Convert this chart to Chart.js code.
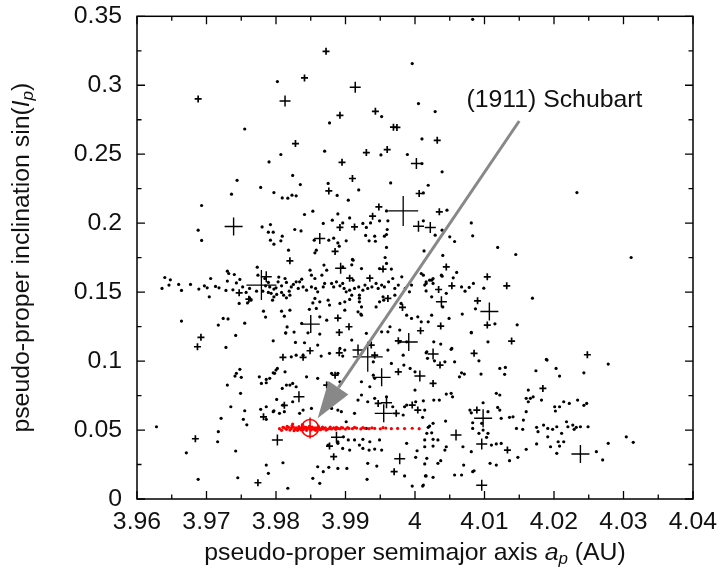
<!DOCTYPE html>
<html><head><meta charset="utf-8">
<script src="https://cdn.jsdelivr.net/npm/chart.js@4.4.0/dist/chart.umd.min.js"></script>
<style>html,body{margin:0;padding:0;background:#fff}canvas{display:block}</style>
</head><body>
<canvas id="c" width="722" height="577"></canvas>
<script>
const FONT = '"Liberation Sans", Arial, Helvetica, sans-serif';
const FS = 24.8;
const xTicks = [3.96,3.97,3.98,3.99,4.00,4.01,4.02,4.03,4.04];
const xTickLabels = ['3.96','3.97','3.98','3.99','4','4.01','4.02','4.03','4.04'];
const xMinorTicks = [3.965,3.975,3.985,3.995,4.005,4.015,4.025,4.035];
const yTicks = [0,0.05,0.10,0.15,0.20,0.25,0.30,0.35];
const yTickLabels = ['0','0.05','0.1','0.15','0.2','0.25','0.3','0.35'];
const yMinorTicks = [0.025,0.075,0.125,0.175,0.225,0.275,0.325];

// background asteroids (small dots)
const dots = [
[3.9996,0.3157],[3.9802,0.3027],[4.0005,0.2867],[3.9952,0.2773],[3.9877,0.2727],[3.9755,0.2683],[4.0010,0.2611],[3.9870,0.2522],[3.9807,0.2498],[3.9951,0.2495],[3.9989,0.2498],[3.9790,0.2444],[3.9824,0.2346],[3.9744,0.2311],[4.0083,0.3478],
[4.0029,0.2809],[4.0010,0.2432],[4.0039,0.2372],[4.0233,0.2222],[4.0311,0.1751],[4.0169,0.1456],
[3.9736,0.2210],[3.9693,0.2128],[3.9688,0.1949],[3.9693,0.1875],
[3.9778,0.2259],[3.9835,0.2280],[3.9875,0.2288],[3.9919,0.2241],[3.9965,0.2292],[4.0019,0.2275],[3.9797,0.2222],
[3.9809,0.2183],[3.9817,0.2181],[3.9823,0.2203],[3.9829,0.2198],[3.9888,0.2201],[3.9904,0.2167],[3.9841,0.2063],[3.9853,0.2087],[3.9959,0.2089],
[3.9889,0.2067],[3.9906,0.2038],[3.9896,0.2002],[3.9881,0.2022],[3.9868,0.1998],[3.9925,0.1998],[3.9936,0.2002],[3.9930,0.1969],[3.9949,0.2017],[3.9961,0.2017],
[3.9780,0.1973],[3.9792,0.1990],[3.9789,0.1935],[3.9796,0.1935],[3.9827,0.1954],[3.9836,0.1944],
[3.9809,0.1906],[3.9807,0.1872],[3.9792,0.1877],[3.9797,0.1848],
[3.9855,0.1877],[3.9858,0.1804],[3.9856,0.1785],[3.9876,0.1877],[3.9883,0.1891],[3.9889,0.1857],[3.9891,0.1833],
[3.9901,0.1872],[3.9929,0.1911],[3.9934,0.1872],[3.9942,0.1906],[3.9943,0.1869],[3.9956,0.1906],[3.9960,0.1954],[3.9959,0.1918],[3.9959,0.1824],
[3.9818,0.1804],[3.9910,0.1737],[3.9909,0.1698],[3.9896,0.1683],[3.9957,0.1751],[3.9959,0.1708],
[4.0012,0.2219],[4.0046,0.2094],[4.0012,0.2017],[4.0039,0.1949],[4.0029,0.1913],[4.0050,0.1901],[4.0057,0.1867],[4.0081,0.2002],[4.0083,0.1908],[4.0119,0.1824],[4.0145,0.1773],[4.0013,0.1799],[4.0040,0.1766],[4.0060,0.1643],[4.0055,0.1604],[4.0039,0.1616],[4.0084,0.1563],[4.0078,0.1534],[4.0067,0.1538],[4.0072,0.1507],[4.0099,0.1529],[4.0045,0.1491],[4.0024,0.1587],[4.0026,0.1599],[4.0012,0.1623],[4.0016,0.1575],[4.0014,0.1551],[4.0016,0.1509],[4.0024,0.1466],[4.0040,0.1393],[4.0068,0.1341],[4.0087,0.1379],[4.0115,0.1270],[4.0147,0.1263],[4.0049,0.1309],[4.0009,0.1285],[4.0081,0.1208],[4.0027,0.1140],[4.0037,0.1123],[4.0053,0.1092],[4.0105,0.1140],
[3.9640,0.1606],[3.9648,0.1589],[3.9636,0.1527],[3.9646,0.1551],[3.9660,0.1556],[3.9664,0.1512],[3.9677,0.1556],[3.9689,0.1522],[3.9697,0.1546],[3.9701,0.1531],[3.9706,0.1599],[3.9704,0.1466],[3.9713,0.1541],[3.9718,0.1531],[3.9728,0.1512],[3.9730,0.1580],[3.9730,0.1652],[3.9732,0.1635],[3.9740,0.1628],[3.9743,0.1567],[3.9738,0.1517],[3.9748,0.1592],[3.9752,0.1538],[3.9747,0.1418],[3.9757,0.1498],[3.9762,0.1459],[3.9764,0.1442],[3.9759,0.1422],[3.9762,0.1527],[3.9772,0.1507],[3.9773,0.1681],[3.9774,0.1623],[3.9784,0.1599],[3.9789,0.1570],[3.9785,0.1546],[3.9791,0.1538],[3.9781,0.1507],[3.9789,0.1498],[3.9793,0.1491],[3.9797,0.1522],[3.9800,0.1531],[3.9801,0.1483],[3.9797,0.1466],[3.9795,0.1442],[3.9782,0.1362],[3.9785,0.1319],[3.9808,0.1546],[3.9813,0.1599],[3.9815,0.1570],[3.9804,0.1609],[3.9803,0.1575],[3.9808,0.1498],[3.9811,0.1478],[3.9815,0.1459],[3.9819,0.1507],[3.9822,0.1538],[3.9825,0.1556],[3.9829,0.1575],[3.9832,0.1527],[3.9820,0.1478],[3.9808,0.1362],[3.9812,0.1326],[3.9664,0.1290],[3.9724,0.1309],[3.9731,0.1306],[3.9717,0.1261],[3.9755,0.1275],[3.9742,0.1186],[3.9796,0.1147],[3.9816,0.1248],[3.9814,0.1203],[3.9826,0.1210],[3.9828,0.1135],
[3.9849,0.1659],[3.9851,0.1623],[3.9869,0.1696],[3.9873,0.1659],[3.9866,0.1623],[3.9856,0.1599],[3.9837,0.1594],[3.9834,0.1575],[3.9839,0.1538],[3.9844,0.1514],[3.9851,0.1538],[3.9857,0.1527],[3.9860,0.1502],[3.9868,0.1538],[3.9870,0.1563],[3.9880,0.1563],[3.9883,0.1538],[3.9887,0.1575],[3.9892,0.1546],[3.9896,0.1563],[3.9898,0.1527],[3.9901,0.1502],[3.9906,0.1514],[3.9911,0.1587],[3.9913,0.1527],[3.9919,0.1538],[3.9920,0.1478],[3.9925,0.1514],[3.9928,0.1551],[3.9932,0.1527],[3.9938,0.1538],[3.9944,0.1563],[3.9947,0.1527],[3.9952,0.1551],[3.9956,0.1538],[3.9962,0.1575],[3.9968,0.1599],[3.9971,0.1527],[3.9976,0.1551],[3.9981,0.1611],[3.9986,0.1527],[3.9992,0.1502],[3.9995,0.1551],[3.9911,0.1732],[3.9923,0.1671],[3.9966,0.1667],[3.9949,0.1671],[4.0009,0.1635],[4.0021,0.1587],[4.0026,0.1563],[4.0016,0.1563],[4.0038,0.1623],
[3.9856,0.1454],[3.9863,0.1430],[3.9875,0.1442],[3.9899,0.1430],[3.9909,0.1478],[3.9920,0.1430],[3.9923,0.1393],[3.9944,0.1393],[3.9949,0.1430],[3.9954,0.1466],[3.9971,0.1478],[3.9980,0.1418],[3.9899,0.1369],[3.9858,0.1382],[3.9877,0.1406],[3.9918,0.1357],[3.9923,0.1333],[3.9988,0.1333],[3.9995,0.1309],[4.0004,0.1321],[4.0019,0.1285],[4.0024,0.1333],[3.9837,0.1273],[3.9863,0.1321],[3.9873,0.1297],
[3.9820,0.1369],[3.9848,0.1375],[3.9853,0.1422],[3.9892,0.1418],[3.9906,0.1447],[3.9920,0.1456],[3.9922,0.1341],[3.9955,0.1442],[3.9964,0.1249],[3.9978,0.1225],
[3.9814,0.1205],[3.9846,0.1205],[3.9863,0.1196],[3.9841,0.1133],[3.9860,0.1116],[3.9877,0.1056],[3.9892,0.1092],[3.9899,0.1080],[3.9909,0.1152],[3.9839,0.1043],[3.9865,0.1036],[3.9822,0.1031],[3.9796,0.0915],[3.9800,0.0935],[3.9813,0.0922],[3.9815,0.0826],[3.9786,0.0867],[3.9779,0.0838],[3.9820,0.0826],[3.9824,0.0838],[3.9829,0.0814],[3.9844,0.0886],[3.9860,0.0875],[3.9880,0.0911],[3.9889,0.0911],[3.9892,0.0850],[3.9923,0.0850],[3.9935,0.0814],[3.9940,0.0898],[3.9942,0.0875],[3.9940,0.0995],[3.9966,0.0983],[3.9978,0.1140],[3.9983,0.1043],[3.9988,0.1140],[3.9961,0.1080],[3.9930,0.1201],[3.9952,0.1212],[3.9961,0.1212],[3.9786,0.0669],[3.9796,0.0633],[3.9810,0.0681],[3.9812,0.0633],[3.9805,0.0621],[3.9824,0.0705],[3.9839,0.0645],[3.9851,0.0657],[3.9834,0.0621],[3.9880,0.0657],[3.9889,0.0645],[3.9894,0.0633],[3.9918,0.0717],[3.9923,0.0754],[3.9932,0.0705],[3.9942,0.0730],[3.9959,0.0741],[3.9968,0.0669],[3.9988,0.0681],[3.9913,0.0621],[3.9983,0.0609],
[4.0081,0.1205],[4.0052,0.1085],[4.0016,0.1060],[4.0018,0.1020],[4.0028,0.1002],[4.0043,0.0995],[4.0057,0.0995],[4.0092,0.1002],[3.9984,0.0971],[3.9993,0.0947],[4.0000,0.0922],[4.0067,0.0915],[4.0071,0.0906],[4.0064,0.0886],[4.0095,0.0906],[4.0122,0.0947],[4.0130,0.0954],[4.0129,0.0904],[4.0174,0.0930],[4.0189,0.1012],[4.0000,0.0790],[4.0045,0.0761],[4.0052,0.0766],[4.0054,0.0741],[4.0027,0.0717],[4.0035,0.0717],[4.0117,0.0766],[4.0122,0.0754],[4.0098,0.0698],[4.0119,0.0664],[4.0122,0.0645],[4.0079,0.0645],[4.0081,0.0625],[4.0105,0.0633],[4.0163,0.0790],[4.0160,0.0730],[4.0166,0.0730],[4.0163,0.0705],[4.0170,0.0741],[4.0182,0.0717],[4.0160,0.0633],[4.0141,0.0596],[4.0012,0.0712],[4.0014,0.0645],[4.0011,0.0592],[3.9985,0.0669],[4.0001,0.0705],
[4.0278,0.0978],[4.0243,0.0915],[4.0190,0.1007],[4.0203,0.0947],[4.0208,0.0891],[4.0201,0.0669],[4.0202,0.0638],[4.0208,0.0669],[4.0214,0.0705],[4.0222,0.0693],[4.0234,0.0717],[4.0243,0.0679],[4.0247,0.0693],[4.0156,0.0572],[4.0175,0.0520],[4.0177,0.0488],[4.0185,0.0536],[4.0191,0.0512],[4.0198,0.0505],[4.0191,0.0451],[4.0204,0.0524],[4.0211,0.0476],[4.0218,0.0560],[4.0220,0.0524],[4.0227,0.0536],[4.0229,0.0505],[4.0232,0.0520],[4.0238,0.0524],[4.0249,0.0524],[4.0206,0.0415],[4.0208,0.0384],[4.0195,0.0379],[4.0160,0.0360],[4.0175,0.0399],[4.0204,0.0331],[4.0214,0.0415],[4.0261,0.0343],[4.0270,0.0283],[4.0278,0.0404],[4.0304,0.0451],[4.0314,0.0411],
[4.0017,0.1067],[4.0019,0.0520],[4.0021,0.0529],[4.0026,0.0549],[4.0044,0.0565],[4.0024,0.0480],[4.0017,0.0476],[4.0026,0.0433],[4.0033,0.0428],[4.0014,0.0379],[4.0026,0.0384],[4.0043,0.0355],[4.0069,0.0379],[4.0081,0.0343],[4.0017,0.0295],[4.0037,0.0278],[4.0033,0.0259],[4.0014,0.0254],[4.0070,0.0246],[4.0108,0.0259],[4.0117,0.0246],[4.0083,0.0198],[4.0085,0.0205],[4.0067,0.0174],[4.0057,0.0174],[4.0016,0.0167],[4.0026,0.0157],[4.0012,0.0101],[4.0124,0.0585],[4.0083,0.0553],[4.0096,0.0549],[4.0083,0.0512],[4.0098,0.0500],[4.0105,0.0476],[4.0092,0.0476],[4.0103,0.0447],[4.0110,0.0391],[4.0117,0.0399],[4.0124,0.0403],[4.0136,0.0592],[4.0146,0.0512],[4.0155,0.0505],[4.0136,0.0278],[4.0148,0.0302],
[3.9728,0.1099],[3.9896,0.1036],[3.9829,0.1043],[3.9748,0.0940],[3.9743,0.0911],[3.9741,0.0891],[3.9730,0.0826],[3.9750,0.0882],[3.9749,0.0766],[3.9735,0.0669],[3.9755,0.0640],[3.9753,0.0578],[3.9758,0.0538],[3.9721,0.0585],[3.9717,0.0488],[3.9716,0.0415],[3.9628,0.0524],[3.9671,0.0335],[3.9742,0.0348],[3.9688,0.0143],[3.9745,0.0154],[3.9776,0.0886],[3.9786,0.0843],[3.9791,0.0875],[3.9798,0.0911],[3.9802,0.0947],[3.9778,0.0650],[3.9797,0.0640],[3.9786,0.0578],[3.9801,0.0722],[3.9809,0.0802],[3.9786,0.0246],[3.9789,0.0186],[3.9810,0.0263],[3.9817,0.0078],[3.9853,0.0150],[3.9863,0.0114],[3.9860,0.0234],[3.9868,0.0198],[3.9876,0.0230],[3.9889,0.0222],[3.9902,0.0222],[3.9931,0.0143],[3.9945,0.0239],[3.9932,0.0259],[3.9985,0.0167],[3.9996,0.0094],[4.0015,0.0167],[4.0011,0.0094],[4.0001,0.0302],[4.0003,0.0350],[4.0014,0.0428],[3.9925,0.0367],[3.9934,0.0355],[3.9942,0.0362],[3.9925,0.0433],[3.9930,0.0512],[3.9949,0.0428],[3.9901,0.0560],[3.9897,0.0451],[3.9889,0.0415],[3.9904,0.0428],
[3.9875,0.0391],[3.9889,0.0404],[3.9896,0.0367],[3.9906,0.0355],[3.9913,0.0428],[3.9920,0.0391],[3.9935,0.0415],[3.9952,0.0355],[3.9988,0.0404],[4.0045,0.0379]
];

// larger asteroids drawn as crosses, grouped by size
const crossesSmall = [
[3.9872,0.3246],[3.9841,0.3053],[3.9688,0.2901],[3.9892,0.2782],[3.9943,0.2811],[3.9969,0.2696],[3.9974,0.2694],[3.9828,0.2577],[3.9930,0.2512],[3.9960,0.2534],[3.9895,0.2441],[3.9910,0.2324],[4.0032,0.2601],[3.9876,0.2234],[4.0006,0.2215],[3.9948,0.2118],[3.9939,0.2051],[3.9892,0.1969],[3.9913,0.1973],[3.9885,0.1795],[3.9820,0.1727],[3.9906,0.1601],[3.9935,0.1601],[3.9954,0.1667],[3.9747,0.1495],[3.9761,0.1449],[3.9961,0.1454],[3.9982,0.1389],[3.9889,0.1312],[3.9891,0.1208],[3.9905,0.1249],[3.9976,0.1147],[4.0008,0.1220],[4.0035,0.2082],[4.0045,0.1683],[4.0104,0.1611],[4.0132,0.1546],[4.0034,0.1519],[4.0053,0.1546],[4.0090,0.1437],[4.0104,0.1261],[4.0037,0.1254],[4.0139,0.1145],[3.9810,0.1027],[3.9839,0.1027],[3.9849,0.1075],[3.9891,0.1060],[3.9976,0.0922],[3.9812,0.0679],[3.9782,0.0596],[3.9947,0.0693],[3.9996,0.0681],[4.0004,0.0645],[3.9684,0.0437],[3.9877,0.0384],[3.9883,0.0307],[3.9970,0.0198],[3.9774,0.0118],[4.0036,0.0971],[4.0085,0.1056],[4.0248,0.1046],[4.0026,0.0838],[4.0184,0.0802],[4.0089,0.0645],[4.0133,0.0355],[3.9692,0.1172],[3.9687,0.1104],[3.9937,0.1116],[3.9942,0.1043],[3.9885,0.0898],[3.9873,0.0826],[3.9973,0.0621]
];
const crossesMedium = [
[3.9914,0.2985],[3.9813,0.2886],[4.0002,0.2432],[4.0005,0.1978],[4.0022,0.1969],[3.9863,0.1889],[3.9893,0.1674],[3.9786,0.1611],[4.0038,0.1430],[3.9918,0.1080],[4.0007,0.0891],[3.9833,0.0741],[3.9802,0.0428],[3.9887,0.0447],[3.9978,0.0292],[4.0059,0.0464],[4.0096,0.0399],[4.0096,0.0099],[3.9959,0.0698],[4.0026,0.1051]
];
const crossesLarge = [
[3.9739,0.1976],[4.0238,0.0326],[3.9850,0.1268],[3.9991,0.1138],[3.9955,0.0621],[3.9952,0.0882],[4.0107,0.1360],[4.0098,0.0585]
];
const crossesHuge = [
[3.9779,0.1551],[3.9983,0.2089],[3.9932,0.1031]
];

// Schubart family members (red)
const familyMembers = [
[3.9805,0.0510],[3.9808,0.0498],[3.9810,0.0520],[3.9812,0.0515],[3.9815,0.0505],[3.9816,0.0526],[3.9818,0.0520],[3.9820,0.0500],[3.9822,0.0512],[3.9823,0.0530],[3.9825,0.0522],[3.9826,0.0495],[3.9827,0.0505],[3.9829,0.0515],[3.9831,0.0498],[3.9832,0.0510],[3.9833,0.0525],[3.9835,0.0510],[3.9836,0.0503],[3.9837,0.0518],[3.9839,0.0502],[3.9840,0.0524],[3.9841,0.0512],[3.9843,0.0520],[3.9844,0.0498],[3.9845,0.0508],[3.9847,0.0516],[3.9848,0.0527],[3.9850,0.0500],[3.9852,0.0522],[3.9853,0.0506],[3.9854,0.0510],[3.9856,0.0515],[3.9857,0.0498],[3.9858,0.0505],[3.9860,0.0518],[3.9861,0.0526],[3.9862,0.0510],[3.9864,0.0502],[3.9866,0.0514],[3.9867,0.0521],[3.9868,0.0508],[3.9871,0.0516],[3.9872,0.0500],[3.9874,0.0505],[3.9877,0.0512],[3.9878,0.0522],[3.9880,0.0508],[3.9883,0.0515],[3.9886,0.0505],[3.9887,0.0520],[3.9889,0.0512],[3.9892,0.0509],[3.9894,0.0518],[3.9896,0.0515],[3.9900,0.0507],[3.9903,0.0518],[3.9905,0.0512],[3.9910,0.0510],[3.9913,0.0519],[3.9916,0.0514],[3.9922,0.0508],[3.9925,0.0518],[3.9928,0.0513],[3.9934,0.0510],[3.9938,0.0516],[3.9942,0.0512],[3.9950,0.0509],[3.9954,0.0517],[3.9958,0.0514],[3.9966,0.0510],[3.9975,0.0512],[3.9985,0.0511],[3.9996,0.0513],[4.0006,0.0510],[3.9824,0.0543],[3.9838,0.0540]
];
const schubart = [[3.9849,0.0515]];

const labelText = '(1911) Schubart';
const labelAt = [4.0074,0.2891];
const arrowFrom = [4.0150,0.2741];
const arrowTo = [3.9860,0.0585];

const toXY = a => a.map(([x,y]) => ({x,y}));

const deco = {
  id:'deco',
  afterDatasetsDraw(chart){
    const {ctx, chartArea:a, scales:{x,y}} = chart;
    ctx.save();
    const x0=x.getPixelForValue(arrowFrom[0]), y0=y.getPixelForValue(arrowFrom[1]);
    const x1=x.getPixelForValue(arrowTo[0]), y1=y.getPixelForValue(arrowTo[1]);
    const ang=Math.atan2(y1-y0,x1-x0), hl=37, hw=12;
    const bx=x1-hl*Math.cos(ang), by=y1-hl*Math.sin(ang);
    ctx.strokeStyle='#888'; ctx.fillStyle='#888'; ctx.lineWidth=3;
    ctx.beginPath(); ctx.moveTo(x0,y0); ctx.lineTo(bx,by); ctx.stroke();
    ctx.beginPath(); ctx.moveTo(x1,y1);
    ctx.lineTo(bx+hw*Math.sin(ang), by-hw*Math.cos(ang));
    ctx.lineTo(bx-hw*Math.sin(ang), by+hw*Math.cos(ang));
    ctx.closePath(); ctx.fill();
    ctx.fillStyle='#111'; ctx.font=FS+'px '+FONT; ctx.textAlign='left'; ctx.textBaseline='middle';
    ctx.fillText(labelText, x.getPixelForValue(labelAt[0]), y.getPixelForValue(labelAt[1]));
    ctx.strokeStyle='#000'; ctx.lineWidth=1.5;
    ctx.strokeRect(a.left, a.top, a.right-a.left, a.bottom-a.top);
    ctx.lineWidth=1.3; ctx.beginPath();
    const tx=(v,len)=>{const p=x.getPixelForValue(v); ctx.moveTo(p,a.bottom); ctx.lineTo(p,a.bottom-len); ctx.moveTo(p,a.top); ctx.lineTo(p,a.top+len);};
    const ty=(v,len)=>{const p=y.getPixelForValue(v); ctx.moveTo(a.left,p); ctx.lineTo(a.left+len,p); ctx.moveTo(a.right,p); ctx.lineTo(a.right-len,p);};
    xTicks.forEach(v=>tx(v,8)); xMinorTicks.forEach(v=>tx(v,4.5));
    yTicks.forEach(v=>ty(v,8)); yMinorTicks.forEach(v=>ty(v,4.5));
    ctx.stroke();
    ctx.restore();
  },
  afterDraw(chart){
    const {ctx, chartArea:a} = chart;
    const size=FS, sub=17;
    const drawRich=(parts)=>{
      let w=0;
      parts.forEach(p=>{ctx.font=(p.it?'italic ':'')+(p.sub?sub:size)+'px '+FONT; p.w=ctx.measureText(p.t).width; w+=p.w;});
      let cx=-w/2;
      parts.forEach(p=>{ctx.font=(p.it?'italic ':'')+(p.sub?sub:size)+'px '+FONT; ctx.fillText(p.t,cx,p.sub?6:0); cx+=p.w;});
    };
    ctx.save();
    ctx.fillStyle='#111'; ctx.textAlign='left'; ctx.textBaseline='middle';
    ctx.translate((a.left+a.right)/2, 553);
    drawRich([{t:'pseudo-proper semimajor axis '},{t:'a',it:1},{t:'p',it:1,sub:1},{t:' (AU)'}]);
    ctx.restore();
    ctx.save();
    ctx.fillStyle='#111'; ctx.textAlign='left'; ctx.textBaseline='middle';
    ctx.translate(22,(a.top+a.bottom)/2); ctx.rotate(-Math.PI/2);
    drawRich([{t:'pseudo-proper inclination sin('},{t:'I',it:1},{t:'p',it:1,sub:1},{t:')'}]);
    ctx.restore();
  }
};

new Chart(document.getElementById('c'), {
  type:'scatter',
  data:{datasets:[
    {data:toXY(schubart), pointStyle:'circle', pointRadius:8.5, borderColor:'#f00', backgroundColor:'rgba(0,0,0,0)', borderWidth:1.6},
    {data:toXY(schubart), pointStyle:'cross', pointRadius:10.5, borderColor:'#f00', borderWidth:1.6},
    {data:toXY(familyMembers), pointStyle:'circle', pointRadius:1.6, borderWidth:0, backgroundColor:'#f00'},
    {data:toXY(crossesHuge), pointStyle:'cross', pointRadius:15, borderColor:'#000', borderWidth:1.3},
    {data:toXY(crossesLarge), pointStyle:'cross', pointRadius:9, borderColor:'#000', borderWidth:1.4},
    {data:toXY(crossesMedium), pointStyle:'cross', pointRadius:5.5, borderColor:'#000', borderWidth:1.5},
    {data:toXY(crossesSmall), pointStyle:'cross', pointRadius:3.5, borderColor:'#000', borderWidth:1.7},
    {data:toXY(dots), pointStyle:'circle', pointRadius:1.6, borderWidth:0, backgroundColor:'#000'}
  ]},
  options:{
    responsive:false, animation:false, devicePixelRatio:1,
    layout:{padding:{left:0,right:29,top:16,bottom:0}},
    plugins:{legend:{display:false}, tooltip:{enabled:false}},
    elements:{point:{hoverRadius:0}},
    scales:{
      x:{type:'linear', min:3.96, max:4.04,
        afterBuildTicks:s=>{s.ticks=xTicks.map(v=>({value:v}));},
        afterFit:s=>{s.height=78; s.paddingLeft=0; s.paddingRight=0;},
        grid:{display:false, drawTicks:false}, border:{display:false},
        ticks:{callback:(v,i)=>xTickLabels[i], font:{family:FONT,size:FS}, color:'#111', padding:8, maxRotation:0, autoSkip:false}},
      y:{type:'linear', min:0, max:0.35,
        afterBuildTicks:s=>{s.ticks=yTicks.map(v=>({value:v}));},
        afterFit:s=>{s.width=137; s.paddingTop=0; s.paddingBottom=0;},
        grid:{display:false, drawTicks:false}, border:{display:false},
        ticks:{callback:(v,i)=>yTickLabels[i], font:{family:FONT,size:FS}, color:'#111', padding:15, autoSkip:false}}
    }
  },
  plugins:[deco]
});
</script>
</body></html>
